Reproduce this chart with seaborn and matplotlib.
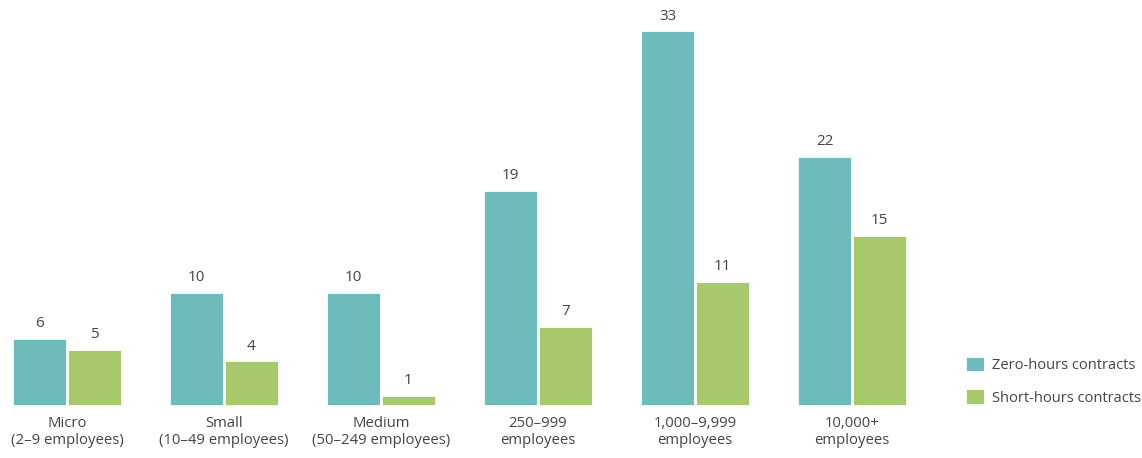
import matplotlib
matplotlib.use("Agg")
import matplotlib.pyplot as plt
import seaborn as sns
import pandas as pd

categories = ["Micro\n(2\u20139 employees)", "Small\n(10\u201349 employees)", "Medium\n(50\u2013249 employees)",
              "250\u2013999\nemployees", "1,000\u20139,999\nemployees", "10,000+\nemployees"]
series_names = ["Zero-hours contracts", "Short-hours contracts"]
zero_hours = [6, 10, 10, 19, 33, 22]
short_hours = [5, 4, 1, 7, 11, 15]
colors = ["#6dbbbb", "#a8c96b"]

df = pd.DataFrame({
    "category": categories * 2,
    "series": [series_names[0]] * len(categories) + [series_names[1]] * len(categories),
    "value": zero_hours + short_hours,
})

sns.set_theme(style="white")
plt.rcParams["font.family"] = ["Open Sans", "DejaVu Sans"]

W, H = 1142, 458
fig = plt.figure(figsize=(W / 100, H / 100), dpi=100)
ax = fig.add_axes([0, 52 / H, 930 / W, 1 - 52 / H])

sns.barplot(data=df, x="category", y="value", hue="series", palette=colors, saturation=1,
            width=0.70, edgecolor="white", linewidth=2, ax=ax, errorbar=None)

for cont in ax.containers:
    ax.bar_label(cont, padding=5, fontsize=11, color="#444444")

ax.set_xlim(-67 / 157, (930 - 67) / 157)
ax.set_ylim(0, 406 / 11.38)
ax.set_xlabel("")
ax.set_ylabel("")
ax.set_yticks([])
ax.tick_params(axis="x", length=0, pad=7, labelsize=10.7, labelcolor="#444444")
sns.despine(ax=ax, left=True, bottom=True)

leg = ax.legend(loc="upper left", bbox_to_anchor=(952 / W, 1 - 343 / H), bbox_transform=fig.transFigure,
                frameon=False, fontsize=10.5, handlelength=1.35, handleheight=1.35,
                labelspacing=1.05, handletextpad=0.5, labelcolor="#444444")

fig.savefig("out.png", dpi=100)
